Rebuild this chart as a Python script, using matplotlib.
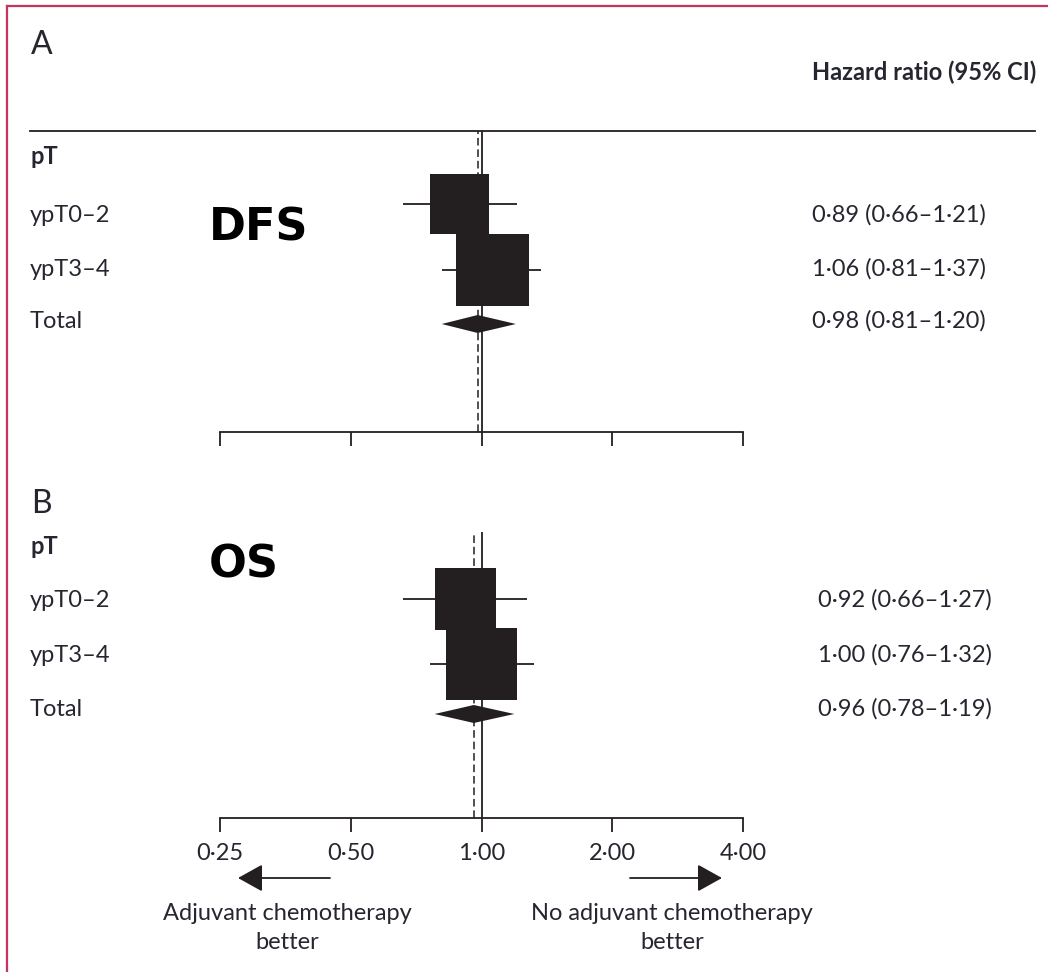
import numpy as np
import matplotlib
matplotlib.use("Agg")
import matplotlib.pyplot as plt
from matplotlib.lines import Line2D
from matplotlib import transforms

# Data
rows = ["ypT0\u20132", "ypT3\u20134", "Total"]
dfs_hr = [0.89, 1.06, 0.98]
dfs_lo = [0.66, 0.81, 0.81]
dfs_hi = [1.21, 1.37, 1.20]
os_hr = [0.92, 1.00, 0.96]
os_lo = [0.66, 0.76, 0.78]
os_hi = [1.27, 1.32, 1.19]
ticks = [0.25, 0.5, 1, 2, 4]
tick_labels = ["0\u00b725", "0\u00b750", "1\u00b700", "2\u00b700", "4\u00b700"]

# box sizes (points^2), roughly the study weights
dfs_box = [1850, 2750]
os_box = [1950, 2650]

W, H = 1048, 972
TXT = "#262630"
INK = "#231f20"
FONT = ["Lato", "DejaVu Sans"]
FS = 17
plt.rcParams["font.family"] = FONT

fig = plt.figure(figsize=(W / 100, H / 100), dpi=100)


def fx(px):
    return px / W


def fy(py):
    return 1 - py / H


def fmt(v):
    return f"{v:.2f}".replace(".", "\u00b7")


def panel(top, bottom, hr, lo, hi, box, mark_y, text_y, header_y, val_x, show_labels):
    ax = fig.add_axes([fx(220), fy(bottom), fx(743) - fx(220), fy(top) - fy(bottom)])
    ax.set_xscale("log", base=2)
    ax.set_xlim(0.25, 4)
    ax.set_ylim(bottom, top)
    for s in ["top", "left", "right"]:
        ax.spines[s].set_visible(False)
    ax.spines["bottom"].set_linewidth(1.3)
    ax.spines["bottom"].set_color(INK)
    ax.set_yticks([])
    ax.set_xticks(ticks)
    ax.xaxis.set_minor_locator(matplotlib.ticker.NullLocator())
    ax.tick_params(axis="x", direction="out", length=10, width=1.3, color=INK, pad=8,
                   labelsize=FS, labelcolor=TXT)
    if show_labels:
        ax.set_xticklabels(tick_labels)
    else:
        ax.set_xticklabels([])
    ax.patch.set_alpha(0)

    ax.axvline(1, color=INK, lw=1.3, zorder=1)
    ax.axvline(hr[2], color=INK, lw=1.1, ls=(0, (5, 2.5)), zorder=1)

    # individual rows
    ax.hlines(mark_y[:2], lo[:2], hi[:2], color=INK, lw=1.3, zorder=2)
    ax.scatter(hr[:2], mark_y[:2], marker="s", s=box, color=INK, lw=0, zorder=3)
    # pooled diamond
    yd = mark_y[2]
    ax.fill([lo[2], hr[2], hi[2], hr[2]], [yd, yd - 9, yd, yd + 9], color=INK, lw=0, zorder=3)

    tr = transforms.blended_transform_factory(fig.transFigure, ax.transData)
    ax.text(fx(30), header_y, "pT", transform=tr, ha="left", va="center",
            fontsize=FS, fontweight="bold", color=TXT, clip_on=False)
    for lab, h, l, u, ty in zip(rows, hr, lo, hi, text_y):
        ax.text(fx(30), ty, lab, transform=tr, ha="left", va="center",
                fontsize=FS, color=TXT, clip_on=False)
        ax.text(fx(val_x), ty, f"{fmt(h)} ({fmt(l)}\u2013{fmt(u)})", transform=tr,
                ha="left", va="center", fontsize=FS, color=TXT, clip_on=False)
    return ax


axA = panel(131, 432, dfs_hr, dfs_lo, dfs_hi, dfs_box,
            [204, 270, 324], [215, 269, 321], 157, 812, False)
axB = panel(532, 818, os_hr, os_lo, os_hi, os_box,
            [599, 664, 714], [600, 655, 709], 546, 818, True)

# header rule and frame
fig.add_artist(Line2D([fx(30), fx(1035)], [fy(131), fy(131)], color=INK, lw=1.3))
fig.add_artist(Line2D([fx(7), 1], [fy(6), fy(6)], color="#c4345c", lw=1.6))
fig.add_artist(Line2D([fx(7), fx(7)], [fy(6), 0], color="#c4345c", lw=1.6))

fig.text(fx(31), fy(45), "A", fontsize=23, color=TXT, ha="left", va="center")
fig.text(fx(31), fy(504), "B", fontsize=23, color=TXT, ha="left", va="center")
fig.text(fx(1036), fy(72), "Hazard ratio (95% CI)", fontsize=FS, fontweight="bold",
         color=TXT, ha="right", va="center")

fig.text(fx(209), fy(228), "DFS", fontsize=32, fontweight="bold", color="black",
         family="DejaVu Sans", ha="left", va="center")
fig.text(fx(209), fy(565), "OS", fontsize=32, fontweight="bold", color="black",
         family="DejaVu Sans", ha="left", va="center")

# direction arrows
arrow = dict(arrowstyle="-|>,head_length=0.9,head_width=0.5", color=INK, lw=1.3,
             mutation_scale=17, shrinkA=0, shrinkB=0)
fig.add_artist(matplotlib.patches.FancyArrowPatch((fx(330), fy(878)), (fx(238), fy(878)),
                                                  transform=fig.transFigure, **arrow))
fig.add_artist(matplotlib.patches.FancyArrowPatch((fx(630), fy(878)), (fx(722), fy(878)),
                                                  transform=fig.transFigure, **arrow))
fig.text(fx(287), fy(928), "Adjuvant chemotherapy\nbetter", fontsize=FS, color=TXT,
         ha="center", va="center", linespacing=1.45)
fig.text(fx(672), fy(928), "No adjuvant chemotherapy\nbetter", fontsize=FS, color=TXT,
         ha="center", va="center", linespacing=1.45)

fig.savefig("out.png", dpi=100, facecolor="white")
